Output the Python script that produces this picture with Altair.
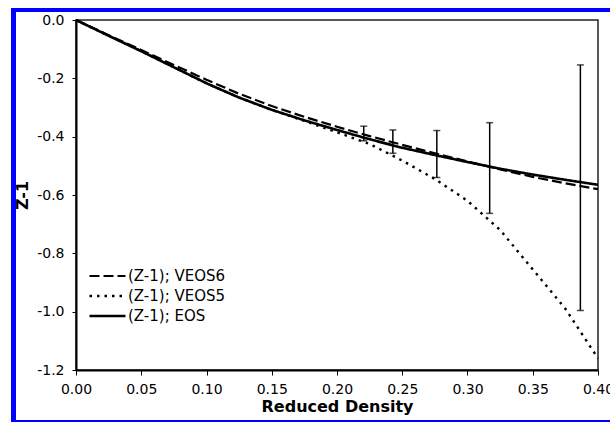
import altair as alt
import pandas as pd

# ---- data ----
rho = [0.0, 0.025, 0.05, 0.075, 0.10, 0.125, 0.15, 0.175, 0.20, 0.225,
       0.25, 0.275, 0.30, 0.325, 0.35, 0.375, 0.40]
eos = [0.0, -0.054, -0.107, -0.162, -0.217, -0.266, -0.308, -0.344, -0.377,
       -0.409, -0.438, -0.463, -0.487, -0.510, -0.530, -0.548, -0.565]
veos6 = [0.0, -0.052, -0.103, -0.154, -0.205, -0.253, -0.295, -0.332, -0.366,
         -0.398, -0.428, -0.457, -0.485, -0.512, -0.538, -0.560, -0.580]
veos5 = [0.0, -0.054, -0.107, -0.162, -0.217, -0.266, -0.308, -0.346, -0.385,
         -0.425, -0.482, -0.545, -0.620, -0.720, -0.855, -0.990, -1.160]

err_x = [0.2205, 0.2428, 0.2765, 0.3170, 0.3865]
err_lo = [-0.414, -0.457, -0.540, -0.663, -0.996]
err_hi = [-0.364, -0.377, -0.379, -0.352, -0.154]

series_names = ["(Z-1); VEOS6", "(Z-1); VEOS5", "(Z-1); EOS"]
x_ticks = [0.0, 0.05, 0.10, 0.15, 0.20, 0.25, 0.30, 0.35, 0.40]
y_ticks = [0.0, -0.2, -0.4, -0.6, -0.8, -1.0, -1.2]

rows = []
for name, vals in zip(series_names, [veos6, veos5, eos]):
    for r, v in zip(rho, vals):
        rows.append({"rho": r, "z": v, "series": name})
df = pd.DataFrame(rows)
err = pd.DataFrame({"x": err_x, "lo": err_lo, "hi": err_hi})

FONT = "DejaVu Sans"
xscale = alt.Scale(domain=[0, 0.4], nice=False, zero=False)
yscale = alt.Scale(domain=[-1.2, 0], nice=False, zero=False)

xaxis = alt.Axis(title="Reduced Density", values=x_ticks, format=".2f",
                 grid=False, tickSize=5, labelPadding=7, titlePadding=2,
                 labelFlush=False, labelOverlap=False)
yaxis = alt.Axis(title="Z-1", values=y_ticks, format=".1f", grid=False,
                 tickSize=4, labelPadding=8, titlePadding=6,
                 labelExpr="replace(datum.label, '\u2212', '-')")

lines = alt.Chart(df).mark_line(color="black").encode(
    x=alt.X("rho:Q", scale=xscale, axis=xaxis),
    y=alt.Y("z:Q", scale=yscale, axis=yaxis),
    strokeDash=alt.StrokeDash(
        "series:N",
        scale=alt.Scale(domain=series_names,
                        range=[[10, 4], [2.5, 5], [1, 0]]),
        legend=alt.Legend(title=None, orient="none", legendX=12, legendY=246,
                          symbolType="stroke", symbolSize=1296,
                          symbolStrokeWidth=2, symbolStrokeColor="black",
                          labelFont=FONT, labelFontSize=15,
                          labelColor="black", labelOffset=1, rowPadding=0,
                          clipHeight=20),
    ),
    strokeWidth=alt.StrokeWidth(
        "series:N",
        scale=alt.Scale(domain=series_names, range=[2.2, 2.6, 2]),
        legend=None,
    ),
)

rules = alt.Chart(err).mark_rule(color="black", strokeWidth=1.5).encode(
    x=alt.X("x:Q", scale=xscale, axis=xaxis),
    y=alt.Y("lo:Q", scale=yscale, axis=yaxis),
    y2="hi:Q",
)
caps_lo = alt.Chart(err).mark_tick(color="black", orient="horizontal",
                                   size=7, thickness=1.5).encode(
    x=alt.X("x:Q", scale=xscale, axis=xaxis),
    y=alt.Y("lo:Q", scale=yscale, axis=yaxis),
)
caps_hi = alt.Chart(err).mark_tick(color="black", orient="horizontal",
                                   size=7, thickness=1.5).encode(
    x=alt.X("x:Q", scale=xscale, axis=xaxis),
    y=alt.Y("hi:Q", scale=yscale, axis=yaxis),
)

# decorative blue frame around the figure
dummy = pd.DataFrame({"a": [0]})
frame_top = alt.Chart(dummy).mark_rule(color="#0000ff", strokeWidth=4).encode(
    x=alt.value(-65), x2=alt.value(540), y=alt.value(-10))
frame_left = alt.Chart(dummy).mark_rule(color="#0000ff", strokeWidth=5).encode(
    x=alt.value(-62.5), y=alt.value(-12), y2=alt.value(402))
frame_bottom = alt.Chart(dummy).mark_rule(color="#0000ff", strokeWidth=2).encode(
    x=alt.value(-65), x2=alt.value(540), y=alt.value(401))

chart = alt.layer(lines, rules, caps_lo, caps_hi,
                  frame_top, frame_left, frame_bottom).properties(
    width=522, height=350,
    autosize=alt.AutoSizeParams(type="none"),
    padding={"left": 76, "top": 20, "right": 12, "bottom": 52},
    background="white",
).configure_view(
    stroke="#222", strokeWidth=1.5
).configure_axis(
    labelFont=FONT, labelFontSize=14, labelColor="black",
    titleFont=FONT, titleFontSize=16, titleFontWeight="bold",
    titleColor="black", domainColor="black", domainWidth=2,
    tickColor="black", tickWidth=1
)

chart.save("out.html", embed_options={"renderer": "svg", "actions": False})
